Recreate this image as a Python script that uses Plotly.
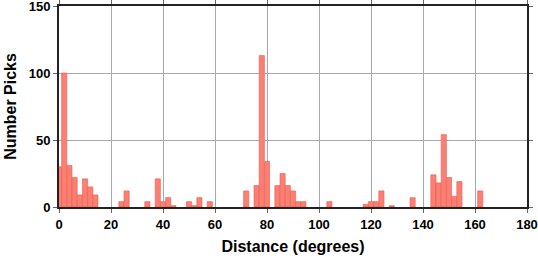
import plotly.graph_objects as go

# Histogram bin centres (degrees, 2-degree bins) and pick counts
bin_centers = [0, 2, 4, 6, 8, 10, 12, 14, 24, 26, 34, 38, 40, 42, 44, 50, 52, 54, 58,
               72, 76, 78, 80, 84, 86, 88, 90, 92, 94, 104, 118, 120, 122, 124, 128,
               136, 144, 146, 148, 150, 152, 154, 162]
pick_counts = [30, 100, 31, 22, 9, 21, 15, 9, 4, 12, 4, 21, 4, 7, 1, 4, 1, 7, 4,
               12, 16, 113, 34, 16, 25, 16, 12, 4, 4, 4, 2, 4, 4, 12, 1,
               7, 24, 18, 54, 22, 8, 19, 12]
bin_width = 2

x_ticks = [0, 20, 40, 60, 80, 100, 120, 140, 160, 180]
y_ticks = [0, 50, 100, 150]

fig = go.Figure()
fig.add_trace(go.Bar(
    x=bin_centers,
    y=pick_counts,
    width=[bin_width] * len(bin_centers),
    marker=dict(color="#fb7f72", line=dict(color="#ee5a4e", width=0.6)),
))

font_b = dict(family="Liberation Sans", size=13, color="black", weight="bold")
title_f = dict(family="Liberation Sans", size=16, color="black", weight="bold")

fig.update_layout(
    width=538, height=258,
    margin=dict(l=59, r=11, t=6, b=51, autoexpand=False),
    paper_bgcolor="white", plot_bgcolor="white",
    showlegend=False,
    xaxis=dict(
        range=[0, 180], tickvals=x_ticks, ticktext=[str(v) for v in x_ticks],
        showgrid=True, gridcolor="#a8a8a8", gridwidth=1,
        showline=True, linecolor="#222", linewidth=2, mirror="ticks",
        ticks="outside", ticklen=4, tickcolor="#666", tickwidth=1,
        tickfont=font_b, zeroline=False, automargin=False, ticklabeloverflow="allow",
        title=dict(text="Distance (degrees)", font=title_f, standoff=10),
    ),
    yaxis=dict(
        range=[0, 150], tickvals=y_ticks, ticktext=[str(v) for v in y_ticks],
        showgrid=True, gridcolor="#a8a8a8", gridwidth=1,
        showline=True, linecolor="#222", linewidth=2, mirror="ticks",
        ticks="outside", ticklen=4, tickcolor="#666", tickwidth=1,
        tickfont=font_b, zeroline=False, automargin=False, ticklabeloverflow="allow",
        title=dict(text="Number Picks", font=title_f, standoff=8),
    ),
)

fig.write_html("out.html")
